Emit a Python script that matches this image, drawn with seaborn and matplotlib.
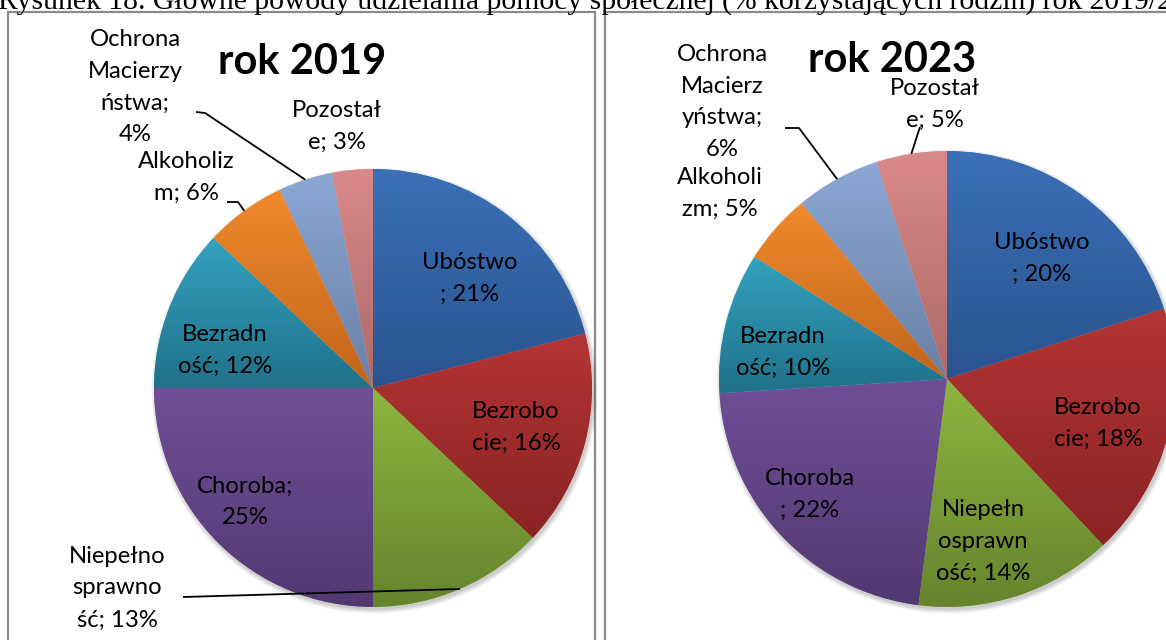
import numpy as np
import matplotlib
matplotlib.use("Agg")
import matplotlib.pyplot as plt
import matplotlib.colors as mcolors
from matplotlib.patches import Rectangle, Circle
import seaborn as sns

# ---------------- data ----------------
categories = ["Ubóstwo", "Bezrobocie", "Niepełnosprawność", "Choroba",
              "Bezradność", "Alkoholizm", "Ochrona Macierzyństwa", "Pozostałe"]
values_2019 = [21, 16, 13, 25, 12, 6, 4, 3]
values_2023 = [20, 18, 14, 22, 10, 5, 6, 5]
# label wrapping as in the original (Excel-style broken words)
wrapped_2019 = ["Ubóstwo\n; {}%", "Bezrobo\ncie; {}%", "Niepełno\nsprawno\nść; {}%",
                "Choroba;\n{}%", "Bezradn\ność; {}%", "Alkoholiz\nm; {}%",
                "Ochrona\nMacierzy\nństwa;\n{}%", "Pozostał\ne; {}%"]
wrapped_2023 = ["Ubóstwo\n; {}%", "Bezrobo\ncie; {}%", "Niepełn\nosprawn\ność; {}%",
                "Choroba\n; {}%", "Bezradn\ność; {}%", "Alkoholi\nzm; {}%",
                "Ochrona\nMacierz\nyństwa;\n{}%", "Pozostał\ne; {}%"]
titles = ["rok 2019", "rok 2023"]
caption = "Rysunek 18. Główne powody udzielania pomocy społecznej (% korzystających rodzin) rok 2019/2023"

# ---------------- style ----------------
sns.set_style("white")
top_cols = sns.color_palette(["#3B70B7", "#B53535", "#8DB63F", "#714F97",
                              "#33A2BF", "#F08A2C", "#8CA7D5", "#DA8989"])
bot_cols = sns.color_palette(["#2A5490", "#8A2323", "#65842D", "#523972",
                              "#207189", "#C2641B", "#6980A3", "#AC6A6A"])
LABEL_FONT = "Lato"
W, H = 1166, 640

# layout (pixel coordinates, y from top)
layout = [
    dict(center=(373, 388), r=219, title_xy=(302, 62),
         label_xy=[(470, 278), (516, 427), (117, 588), (245, 502),
                   (225, 350), (186, 177), (135, 87), (337, 126)],
         leaders={2: [(183, 597)], 5: [(227, 202), (238, 202)],
                  6: [(196, 112), (205, 113)]}),
    dict(center=(947, 379), r=228, title_xy=(892, 60),
         label_xy=[(1042, 258), (1098, 423), (983, 541), (810, 494),
                   (783, 352), (720, 193), (722, 102), (935, 104)],
         leaders={6: [(785, 128), (799, 128)], 7: [(920, 127)]}),
]


def Y(y):
    return H - y


fig = plt.figure(figsize=(W / 100, H / 100), dpi=100)
ax = fig.add_axes([0, 0, 1, 1])

# panel frames
ax.add_patch(Rectangle((8, Y(700)), 595 - 8, 700 - 12, fill=False,
                       edgecolor="#8a8a8a", linewidth=1.6, zorder=0))
ax.add_patch(Rectangle((605, Y(700)), 700, 700 - 12, fill=False,
                       edgecolor="#8a8a8a", linewidth=1.6, zorder=0))

grad = np.linspace(0, 1, 256)[:, None]

for values, wrapped, lay, title in zip([values_2019, values_2023],
                                       [wrapped_2019, wrapped_2023],
                                       layout, titles):
    cx, cy = lay["center"][0], Y(lay["center"][1])
    r = lay["r"]
    # soft shadow
    for k in range(6):
        ax.add_patch(Circle((cx + 1.5, cy - 2.5), r + 0.8 * k, color="black",
                            alpha=0.035, lw=0, zorder=1))
    wedges, _ = ax.pie(values, colors=top_cols, startangle=90, counterclock=False,
                       center=(cx, cy), radius=r,
                       wedgeprops=dict(linewidth=0.6, edgecolor=(1, 1, 1, 0.35),
                                       zorder=2))
    for i, w in enumerate(wedges):
        th = np.radians(np.linspace(w.theta1, w.theta2, 200))
        xs = np.r_[cx, cx + r * np.cos(th)]
        ys = np.r_[cy, cy + r * np.sin(th)]
        t = np.array(mcolors.to_rgb(top_cols[i]))
        b = np.array(mcolors.to_rgb(bot_cols[i]))
        img = (t[None, None, :] * (1 - grad[:, :, None]) + b[None, None, :] * grad[:, :, None])
        im = ax.imshow(img, extent=[xs.min(), xs.max(), ys.min(), ys.max()],
                       origin="upper", aspect="auto", zorder=2.5,
                       interpolation="bilinear")
        im.set_clip_path(w)
        # labels
        lx, ly = lay["label_xy"][i]
        ax.text(lx, Y(ly), wrapped[i].format(values[i]), ha="center", va="center",
                fontsize=17.2, family=LABEL_FONT, color="black",
                linespacing=1.64, zorder=5)
        # leader lines
        if i in lay["leaders"]:
            mid = np.radians((w.theta1 + w.theta2) / 2)
            ex, ey = cx + r * np.cos(mid), cy + r * np.sin(mid)
            pts = [(px, Y(py)) for px, py in lay["leaders"][i]] + [(ex, ey)]
            ax.plot([p[0] for p in pts], [p[1] for p in pts], color="black",
                    lw=1.3, zorder=4, solid_capstyle="butt")
    tx, ty = lay["title_xy"]
    ax.text(tx, Y(ty), title, ha="center", va="center", fontsize=30,
            fontweight="bold", family=LABEL_FONT, color="black", zorder=6)

# caption (cut off at top, as in the source)
ax.text(-2, Y(9), caption, ha="left", va="baseline", fontsize=21.3,
        family="Liberation Serif", color="black", zorder=6)

ax.set_xlim(0, W)
ax.set_ylim(0, H)
ax.set_aspect("auto")
ax.set_axis_off()
fig.savefig("out.png", dpi=100)
